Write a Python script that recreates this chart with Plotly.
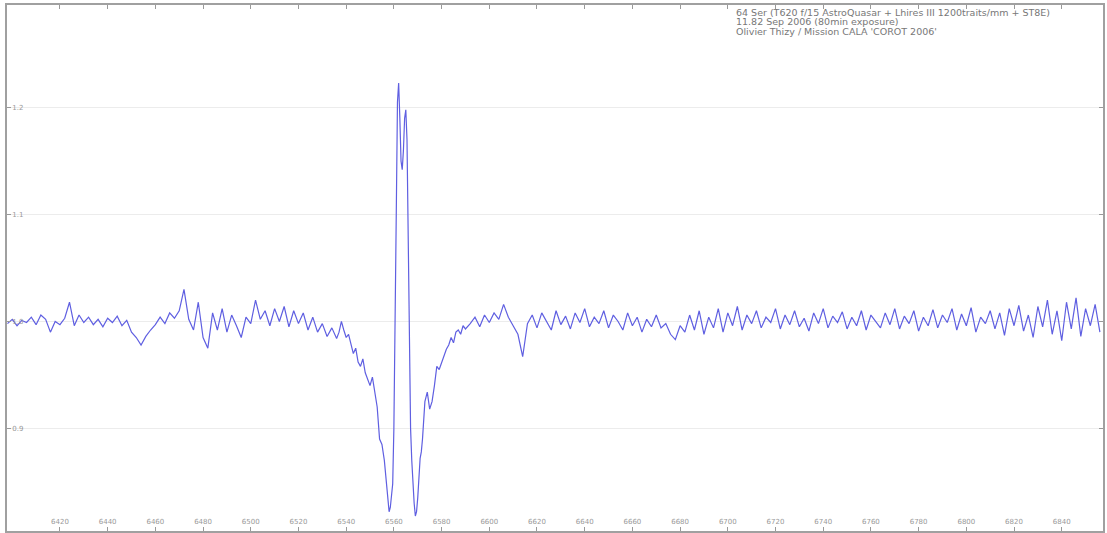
import numpy as np
import plotly.graph_objects as go

# Wavelength grid (Angstrom), segments of different sampling
wl_a = np.arange(6398, 6537, 2)
wl_b = np.arange(6537, 6556, 1)
wl_c = np.arange(6556, 6572.5, 0.5)
wl_d = np.arange(6573, 6591, 1)
wl_e = np.arange(6592, 6857, 2)

flux_a = [0.998,1.002,0.996,1.001,0.999,1.004,0.997,1.006,1.002,0.990,
          1.000,0.997,1.003,1.018,0.996,1.006,0.999,1.004,0.997,1.002,
          0.995,1.003,0.999,1.005,0.996,1.001,0.990,0.985,0.978,0.986,
          0.992,0.997,1.004,0.998,1.008,1.003,1.010,1.030,1.002,0.992,
          1.018,0.985,0.975,1.008,0.992,1.012,0.990,1.006,0.996,0.985,
          1.004,0.998,1.020,1.002,1.010,0.996,1.012,1.000,1.014,0.995,
          1.010,0.998,1.008,0.992,1.004,0.990,0.998,0.986,0.994,0.984]
flux_b = [0.990,1.000,0.992,0.985,0.988,0.978,0.970,0.975,0.962,0.958,
          0.965,0.952,0.945,0.940,0.948,0.935,0.920,0.890,0.885]
flux_c = [0.870,0.858,0.845,0.832,0.822,0.826,0.835,0.848,0.900,0.977,
          1.100,1.205,1.223,1.190,1.150,1.142,1.160,1.190,1.198,1.170,
          1.060,0.960,0.900,0.870,0.845,0.830,0.818,0.822,0.835,0.855,
          0.872,0.878,0.890]
flux_d = [0.925,0.934,0.918,0.925,0.940,0.958,0.955,0.962,0.968,0.974,
          0.978,0.985,0.980,0.990,0.992,0.988,0.996,0.993]
flux_e = [0.998,1.004,0.995,1.006,0.999,1.008,1.002,1.016,1.004,0.996,
          0.988,0.967,0.998,1.006,0.994,1.008,1.000,0.992,1.010,0.997,
          1.005,0.993,1.008,0.999,1.012,0.995,1.004,0.998,1.010,0.994,
          1.006,1.000,0.992,1.008,0.996,1.004,0.990,1.002,0.995,1.006,
          0.994,0.998,0.988,0.983,0.996,0.990,1.006,0.992,1.010,0.988,
          1.004,0.994,1.012,0.990,1.008,0.996,1.014,0.992,1.006,0.998,
          1.010,0.994,1.004,0.999,1.012,0.993,1.006,0.997,1.010,0.995,
          1.003,0.991,1.008,0.998,1.012,0.994,1.005,0.999,1.009,0.993,
          1.004,0.996,1.010,0.992,1.006,1.000,0.994,1.008,0.997,1.012,
          0.993,1.005,0.998,1.010,0.991,1.004,0.996,1.011,0.994,1.006,
          0.999,1.012,0.992,1.007,0.996,1.013,0.990,1.004,0.998,1.010,
          0.993,1.008,0.987,1.012,0.996,1.015,0.991,1.006,0.985,1.014,
          0.995,1.020,0.988,1.010,0.982,1.018,0.993,1.022,0.986,1.012,
          0.996,1.016,0.990]

wavelength = np.concatenate([wl_a, wl_b, wl_c, wl_d, wl_e])
flux = np.array(flux_a + flux_b + flux_c + flux_d + flux_e)

x_ticks = list(range(6420, 6841, 20))
y_ticks = [0.9, 1.0, 1.1, 1.2]
y_ticktext = ["0.9", "1.0", "1.1", "1.2"]

info_lines = ["64 Ser (T620 f/15 AstroQuasar + Lhires III 1200traits/mm + ST8E)",
              "11.82 Sep 2006 (80min exposure)",
              "Olivier Thizy / Mission CALA 'COROT 2006'"]

fig = go.Figure()
fig.add_trace(go.Scatter(x=wavelength, y=flux, mode="lines",
                         line=dict(color="rgb(95,95,225)", width=1.2),
                         showlegend=False))

for i, txt in enumerate(info_lines):
    fig.add_annotation(x=0.663, y=0.986 - i * 0.018, xref="paper", yref="paper",
                       text=txt, showarrow=False, xanchor="left", yanchor="middle",
                       font=dict(size=9.5, color="#777", family="DejaVu Sans"))

axis_common = dict(showline=True, linecolor="#a0a0a0", linewidth=1.5, mirror="ticks",
                   ticks="inside", ticklen=4, tickcolor="#999",
                   ticklabelposition="inside", zeroline=False,
                   tickfont=dict(size=7, color="#999", family="DejaVu Sans"))

fig.update_layout(
    width=1107, height=533,
    margin=dict(l=7, r=2, t=5, b=2),
    paper_bgcolor="white", plot_bgcolor="white",
    xaxis=dict(range=[6397.8, 6857.3], tickvals=x_ticks, showgrid=False, **axis_common),
    yaxis=dict(range=[0.804, 1.296], tickvals=y_ticks, ticktext=y_ticktext,
               showgrid=True, gridcolor="#ececec", gridwidth=1, **axis_common),
)

fig.write_html("out.html")
